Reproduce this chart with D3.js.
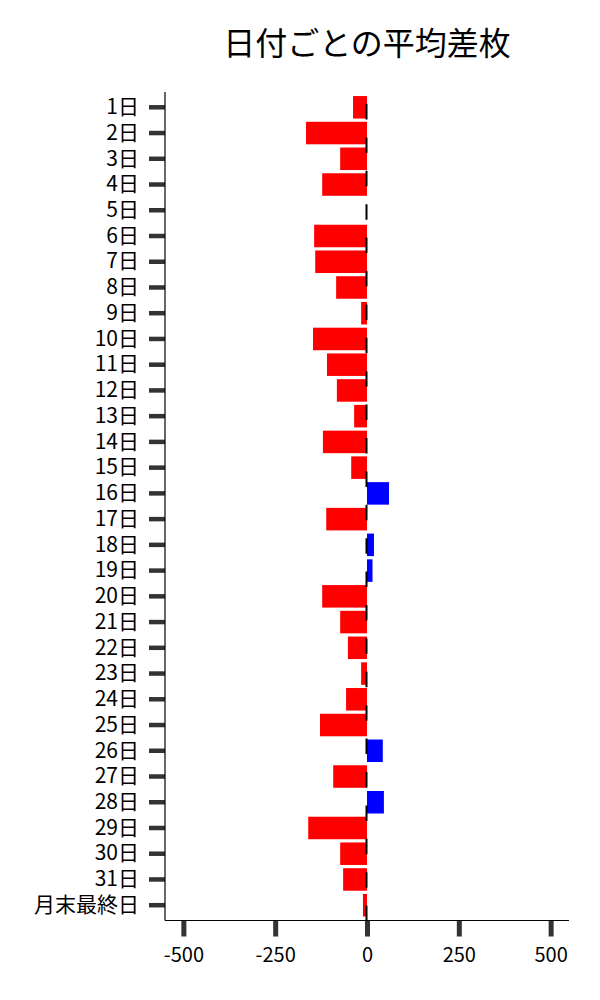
<!DOCTYPE html>
<html>
<head>
<meta charset="utf-8">
<script src="https://cdn.jsdelivr.net/npm/d3@7"></script>
<style>
  body { margin: 0; background: #fff; }
  text { font-family: "Noto Sans CJK JP", "Noto Sans", sans-serif; }
</style>
</head>
<body>
<div id="chart"></div>
<script>
// 日付ごとの平均差枚
const days = ["1日","2日","3日","4日","5日","6日","7日","8日","9日","10日",
  "11日","12日","13日","14日","15日","16日","17日","18日","19日","20日",
  "21日","22日","23日","24日","25日","26日","27日","28日","29日","30日",
  "31日","月末最終日"];
const avgDiff = [-38,-166,-73,-122,0,-144,-141,-84,-16,-147,
  -109,-82,-35,-120,-43,60,-111,19,15,-122,
  -73,-52,-16,-57,-128,43,-92,46,-160,-73,
  -65,-11];
const xTicks = [-500, -250, 0, 250, 500];
const xDomain = [-550, 550];
const title = "日付ごとの平均差枚";

let svg = d3
  .select("#chart")
  .append("svg")
  .attr("width", 600)
  .attr("height", 1000);

let margin = { top: 92, right: 31, bottom: 79.5, left: 165 };
let width = 600 - margin.left - margin.right;
let height = 1000 - margin.top - margin.bottom;

let rootGroup = svg
  .append("g")
  .attr("transform", "translate(" + margin.left + "," + margin.top + ")");

let x = d3.scaleLinear().domain(xDomain).range([0, width]);
let y = d3
  .scaleBand()
  .domain(days)
  .range([0, height])
  .paddingInner(0.125)
  .paddingOuter(0.157);

let data = days.map((d, i) => ({ day: d, value: avgDiff[i] }));

// bars
rootGroup
  .selectAll("rect.bar")
  .data(data)
  .enter()
  .append("rect")
  .attr("class", "bar")
  .attr("x", (d) => x(Math.min(0, d.value)))
  .attr("y", (d) => y(d.day))
  .attr("width", (d) => Math.abs(x(d.value) - x(0)))
  .attr("height", y.bandwidth())
  .attr("fill", (d) => (d.value < 0 ? "#ff0000" : "#0000ff"));

// dashed zero line
rootGroup
  .append("line")
  .attr("x1", x(0) - 0.5)
  .attr("x2", x(0) - 0.5)
  .attr("y1", 0)
  .attr("y2", height)
  .attr("stroke", "#000")
  .attr("stroke-width", 2)
  .attr("stroke-dasharray", "15.5,17.9")
  .attr("stroke-dashoffset", 21.4);

// y axis
let yAxis = rootGroup
  .append("g")
  .call(d3.axisLeft(y).tickSize(16).tickPadding(10));
yAxis.select(".domain").remove();
yAxis.selectAll(".tick line").attr("stroke", "#333").attr("stroke-width", 4.5);
yAxis.selectAll(".tick text").attr("fill", "#000").style("font-size", "21px");

// x axis (plain hyphen for negatives)
let xAxis = rootGroup
  .append("g")
  .attr("transform", "translate(0," + height + ")")
  .call(d3.axisBottom(x).tickValues(xTicks).tickSize(16).tickPadding(11).tickFormat((d) => String(d)));
xAxis.select(".domain").remove();
xAxis.selectAll(".tick line").attr("stroke", "#333").attr("stroke-width", 5);
xAxis.selectAll(".tick text").attr("fill", "#000").style("font-size", "20px");

// spines
rootGroup
  .append("line")
  .attr("x1", 0).attr("x2", 0)
  .attr("y1", 0).attr("y2", height)
  .attr("stroke", "#000")
  .attr("stroke-width", 1.2);
rootGroup
  .append("line")
  .attr("x1", 0).attr("x2", width)
  .attr("y1", height).attr("y2", height)
  .attr("stroke", "#000")
  .attr("stroke-width", 1.2);

// title
svg
  .append("text")
  .attr("x", margin.left + width / 2)
  .attr("y", 55)
  .attr("text-anchor", "middle")
  .style("font-size", "32px")
  .attr("fill", "#000")
  .text(title);
</script>
</body>
</html>
